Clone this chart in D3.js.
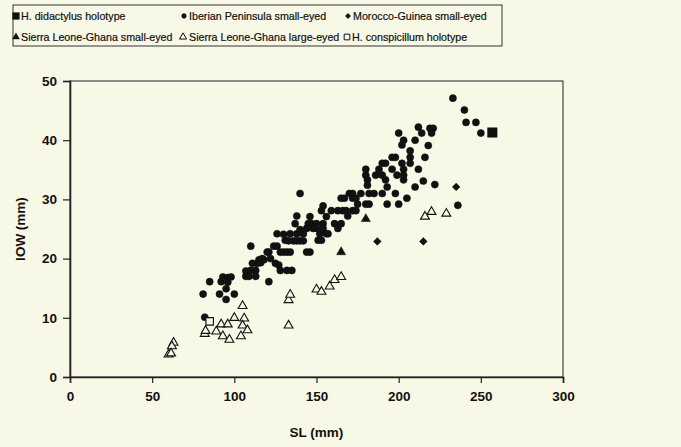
<!DOCTYPE html>
<html>
<head>
<meta charset="utf-8">
<script src="https://cdn.jsdelivr.net/npm/d3@7"></script>
<style>
  body { margin: 0; background: #f8f8e7; }
  svg { display: block; }
  text { font-family: "Liberation Sans", Arial, sans-serif; fill: #111; }
</style>
</head>
<body>
<div id="container"></div>
<script>
/**
 * CONSTANTS AND GLOBALS
 * */
const width = 681,
  height = 447,
  margin = { top: 81, bottom: 70, left: 70, right: 118 };

const xTicks = [0, 50, 100, 150, 200, 250, 300];
const yTicks = [0, 10, 20, 30, 40, 50];

// [SL, IOW]
const didactylusHolotype = [[257, 41.3]];
const conspicillumHolotype = [[85, 9.4]];
const moroccoGuinea = [[235, 32.1], [187, 22.9], [215, 22.9]];
const slGhanaSmall = [[180, 26.7], [165, 21.1]];
const slGhanaLarge = [
  [63, 5.8], [62, 5.2], [60, 3.8], [61.5, 4.0], [82, 7.3], [82.5, 7.8], [89, 7.7],
  [92, 8.9], [93, 6.9], [96, 8.9], [97, 6.3], [100, 10], [104, 6.9], [105, 12],
  [106, 9.9], [105, 8.7], [108, 7.9], [133, 8.7], [133, 13], [134, 13.9], [150, 14.8],
  [153, 14.4], [158, 15.3], [161, 16.4], [165, 16.9], [216, 27.1], [220, 27.9], [229, 27.6]
];
const iberian = [
  [82, 10.1], [81, 14], [85, 16.1], [91, 14], [95, 13.1], [95, 14.9], [100, 14], [92, 16.1],
  [93, 16.9], [96, 16.8], [96, 16], [98, 16.9],
  [110, 22.1], [107, 17.9], [107, 17], [109, 17], [113, 17], [110, 18], [111, 19.2], [114, 19.2],
  [113, 18], [115, 19.8], [117, 20], [118, 19.8], [116, 19.3],
  [121, 16.1], [120, 21.1], [121, 21.1], [124, 22.1], [126, 22.1], [126, 24.2],
  [122, 20], [125, 19.2], [127, 18.9], [128, 18], [132, 18], [135, 18],
  [128, 21.1], [130, 21.1], [132, 21.1], [134, 21.1],
  [130, 24.1], [131, 23.1], [133, 23], [134, 24.2], [136, 23], [137, 25.9], [138, 27.2], [138, 23],
  [140, 23], [142, 23], [138, 24.2], [140, 24.9], [142, 24.2],
  [140, 31], [144, 21.1], [146, 21.1],
  [144, 25.1], [145, 25.9], [146, 27.1], [147, 25.9], [148, 25.1], [150, 25.9], [150, 25.1], [151, 23.1],
  [152, 24.2], [153, 23.1], [154, 25.9], [154, 25.1], [156, 24.2], [157, 24.2], [153, 28.1], [154, 28.9],
  [156, 27.1], [159, 28.1], [161, 25.9], [163, 25.1], [165, 25.9],
  [163, 28.1], [165, 30.2], [167, 30.2], [166, 28.1], [168, 28.1], [170, 31], [172, 31], [172, 30.2],
  [174, 30.2], [169, 27.2], [172, 28.1], [174, 28.1], [175, 29.2], [177, 31], [180, 29.2], [182, 29.2],
  [180, 35.1], [180, 34.1], [181, 33.3], [181, 32.4], [182, 31], [185, 31], [186, 34.1], [188, 35.1],
  [190, 36.1], [190, 34.1], [192, 33.3], [190, 31], [193, 29.2], [193, 32.1], [192, 36.1], [196, 35.1],
  [196, 37.1], [198, 37.1], [198, 31], [199, 34.1], [200, 29.2], [200, 41.2], [202, 39.2], [203, 40],
  [202, 36.1], [203, 35.1], [203, 34.1], [203, 33.3], [205, 30.2], [207, 38.2], [207, 37.1], [207, 36.1],
  [210, 40], [210, 32.1], [212, 35.1], [212, 42.2], [214, 41.2], [216, 37.1], [215, 33.1], [218, 39.1],
  [219, 42], [221, 42], [220, 41.2], [222, 32.5],
  [233, 47.1], [240, 45.1], [241, 43], [247, 43], [250, 41.2], [236, 29]
];

const legendLabels = [
  "H. didactylus holotype", "Iberian Peninsula small-eyed", "Morocco-Guinea small-eyed",
  "Sierra Leone-Ghana small-eyed", "Sierra Leone-Ghana large-eyed", "H. conspicillum holotype"
];

const bg = "#f8f8e7", ink = "#111";

const svg = d3.select("#container")
  .append("svg")
  .attr("width", width)
  .attr("height", height);

svg.append("rect").attr("width", width).attr("height", height).attr("fill", bg);

const x = d3.scaleLinear().domain([0, 300]).range([margin.left, width - margin.right]);
const y = d3.scaleLinear().domain([0, 50]).range([height - margin.bottom, margin.top]);

// plot frame
svg.append("rect")
  .attr("x", x(0)).attr("y", y(50))
  .attr("width", x(300) - x(0)).attr("height", y(0) - y(50))
  .attr("fill", "none").attr("stroke", "#444").attr("stroke-width", 1.2);

const xAxis = svg.append("g")
  .attr("transform", `translate(0,${y(0)})`)
  .call(d3.axisBottom(x).tickValues(xTicks).tickSize(6).tickPadding(8).tickFormat(d3.format("d")));
const yAxis = svg.append("g")
  .attr("transform", `translate(${x(0)},0)`)
  .call(d3.axisLeft(y).tickValues(yTicks).tickSize(7).tickPadding(6).tickFormat(d3.format("d")));

[xAxis, yAxis].forEach(g => {
  g.select(".domain").attr("stroke", "#222").attr("stroke-width", 1.6);
  g.selectAll(".tick line").attr("stroke", "#222").attr("stroke-width", 1.2);
  g.selectAll(".tick text")
    .attr("fill", ink)
    .style("font-family", "'Liberation Sans', Arial, sans-serif")
    .style("font-size", "13.5px")
    .style("font-weight", "bold");
});

svg.append("text")
  .attr("x", x(150)).attr("y", 437)
  .attr("text-anchor", "middle")
  .style("font-size", "13.5px").style("font-weight", "bold")
  .text("SL (mm)");

svg.append("text")
  .attr("transform", `translate(25,${y(25)}) rotate(-90)`)
  .attr("text-anchor", "middle")
  .style("font-size", "13.5px").style("font-weight", "bold")
  .text("IOW (mm)");

// series: data, symbol, size, filled
const series = [
  { data: iberian, type: d3.symbolCircle, size: 40, fill: true, lsize: 18 },
  { data: moroccoGuinea, type: d3.symbolDiamond2, size: 38, fill: true, lsize: 18 },
  { data: slGhanaSmall, type: d3.symbolTriangle, size: 36, fill: true, lsize: 22 },
  { data: slGhanaLarge, type: d3.symbolTriangle, size: 34, fill: false, lsize: 22 },
  { data: conspicillumHolotype, type: d3.symbolSquare, size: 56, fill: false, lsize: 32 },
  { data: didactylusHolotype, type: d3.symbolSquare, size: 90, fill: true, lsize: 46 }
];

series.forEach(s => {
  svg.append("g")
    .selectAll("path")
    .data(s.data)
    .join("path")
    .attr("transform", d => `translate(${x(d[0])},${y(d[1])})`)
    .attr("d", d3.symbol().type(s.type).size(s.size))
    .attr("fill", s.fill ? ink : bg)
    .attr("stroke", ink)
    .attr("stroke-width", s.fill ? 0.5 : 1.1);
});

// legend
const legend = svg.append("g");
legend.append("rect")
  .attr("x", 13).attr("y", 5).attr("width", 489).attr("height", 41)
  .attr("fill", bg).attr("stroke", "#333").attr("stroke-width", 1);

const legendItems = [
  { label: legendLabels[0], s: series[5], mx: 16, tx: 21, row: 0 },
  { label: legendLabels[1], s: series[0], mx: 184, tx: 189, row: 0 },
  { label: legendLabels[2], s: series[1], mx: 348, tx: 353, row: 0 },
  { label: legendLabels[3], s: series[2], mx: 16, tx: 21, row: 1 },
  { label: legendLabels[4], s: series[3], mx: 183, tx: 189, row: 1 },
  { label: legendLabels[5], s: series[4], mx: 347, tx: 352, row: 1 }
];
const rowY = [16, 37];

const li = legend.selectAll("g.item")
  .data(legendItems)
  .join("g")
  .attr("class", "item");

li.append("path")
  .attr("transform", d => `translate(${d.mx},${rowY[d.row]})`)
  .attr("d", d => d3.symbol().type(d.s.type).size(d.s.lsize)())
  .attr("fill", d => d.s.fill ? ink : bg)
  .attr("stroke", ink)
  .attr("stroke-width", d => d.s.fill ? 0.4 : 1);

li.append("text")
  .attr("x", d => d.tx)
  .attr("y", d => rowY[d.row] + 4)
  .style("font-size", "10.7px")
  .style("stroke", ink)
  .style("stroke-width", 0.2)
  .text(d => d.label);
</script>
</body>
</html>
